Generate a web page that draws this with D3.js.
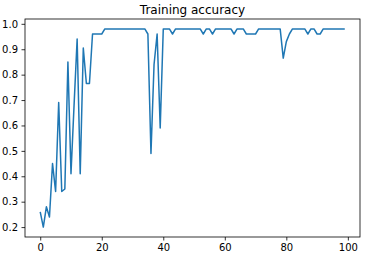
<!DOCTYPE html>
<html>
<head>
<meta charset="utf-8">
<script src="https://cdn.jsdelivr.net/npm/d3@7"></script>
<style>
  body { margin: 0; background: #fff; }
  svg { display: block; font-family: "DejaVu Sans", sans-serif; }
</style>
</head>
<body>
<svg id="chart" width="366" height="256"></svg>
<script>
// accuracy per epoch
let accuracy = [
  0.26, 0.20, 0.28, 0.24, 0.45, 0.34, 0.69, 0.34, 0.35, 0.85,
  0.41, 0.68, 0.94, 0.41, 0.905, 0.765, 0.765, 0.96, 0.96, 0.96,
  0.96, 0.98, 0.98, 0.98, 0.98, 0.98, 0.98, 0.98, 0.98, 0.98,
  0.98, 0.98, 0.98, 0.98, 0.98, 0.96, 0.49, 0.84, 0.96, 0.59,
  0.98, 0.98, 0.98, 0.96, 0.98, 0.98, 0.98, 0.98, 0.98, 0.98,
  0.98, 0.98, 0.98, 0.96, 0.98, 0.98, 0.96, 0.98, 0.98, 0.98,
  0.98, 0.98, 0.98, 0.96, 0.98, 0.98, 0.98, 0.96, 0.96, 0.96,
  0.96, 0.98, 0.98, 0.98, 0.98, 0.98, 0.98, 0.98, 0.98, 0.865,
  0.93, 0.96, 0.98, 0.98, 0.98, 0.98, 0.98, 0.96, 0.98, 0.98,
  0.96, 0.96, 0.98, 0.98, 0.98, 0.98, 0.98, 0.98, 0.98, 0.98
];
let epochs = accuracy.map((d, i) => i);
let xTicks = [0, 20, 40, 60, 80, 100];
let yTicks = [0.2, 0.3, 0.4, 0.5, 0.6, 0.7, 0.8, 0.9, 1.0];
let title = "Training accuracy";

let svg = d3.select("#chart");
let margin = {top: 19, right: 6, bottom: 19, left: 25};
let width = 366 - margin.left - margin.right;
let height = 256 - margin.top - margin.bottom;

// matplotlib style 5% padding around the data
let xPad = (d3.max(epochs) - d3.min(epochs)) * 0.05;
let yPad = (d3.max(accuracy) - d3.min(accuracy)) * 0.05;

let xscale = d3.scaleLinear()
    .domain([d3.min(epochs) - xPad, d3.max(epochs) + xPad])
    .range([0, width]);
let yscale = d3.scaleLinear()
    .domain([d3.min(accuracy) - yPad, d3.max(accuracy) + yPad])
    .range([height, 0]);

let g = svg.append("g")
    .attr("transform", `translate(${margin.left}, ${margin.top})`);

let xaxis = d3.axisBottom(xscale).tickValues(xTicks).tickSize(3.5).tickPadding(3.5);
let yaxis = d3.axisLeft(yscale).tickValues(yTicks).tickSize(3.5).tickPadding(3.5)
    .tickFormat(d3.format(".1f"));

g.append("g").attr("transform", `translate(0, ${height})`).call(xaxis);
g.append("g").call(yaxis);

g.selectAll(".domain").remove();
g.selectAll(".tick line").attr("stroke", "#000").attr("stroke-width", 0.8);
g.selectAll(".tick text")
    .attr("fill", "#000")
    .style("font-size", "10px")
    .style("font-family", "DejaVu Sans");

let line = d3.line()
    .x((d, i) => xscale(epochs[i]))
    .y(d => yscale(d));

g.append("path")
    .datum(accuracy)
    .attr("fill", "none")
    .attr("stroke", "#1f77b4")
    .attr("stroke-width", 1.5)
    .attr("stroke-linejoin", "round")
    .attr("d", line);

// frame
g.append("rect")
    .attr("width", width)
    .attr("height", height)
    .attr("fill", "none")
    .attr("stroke", "#000")
    .attr("stroke-width", 0.8);

svg.append("text")
    .attr("x", margin.left + width / 2)
    .attr("y", margin.top - 5)
    .attr("text-anchor", "middle")
    .style("font-size", "12px")
    .style("font-family", "DejaVu Sans")
    .text(title);
</script>
</body>
</html>
